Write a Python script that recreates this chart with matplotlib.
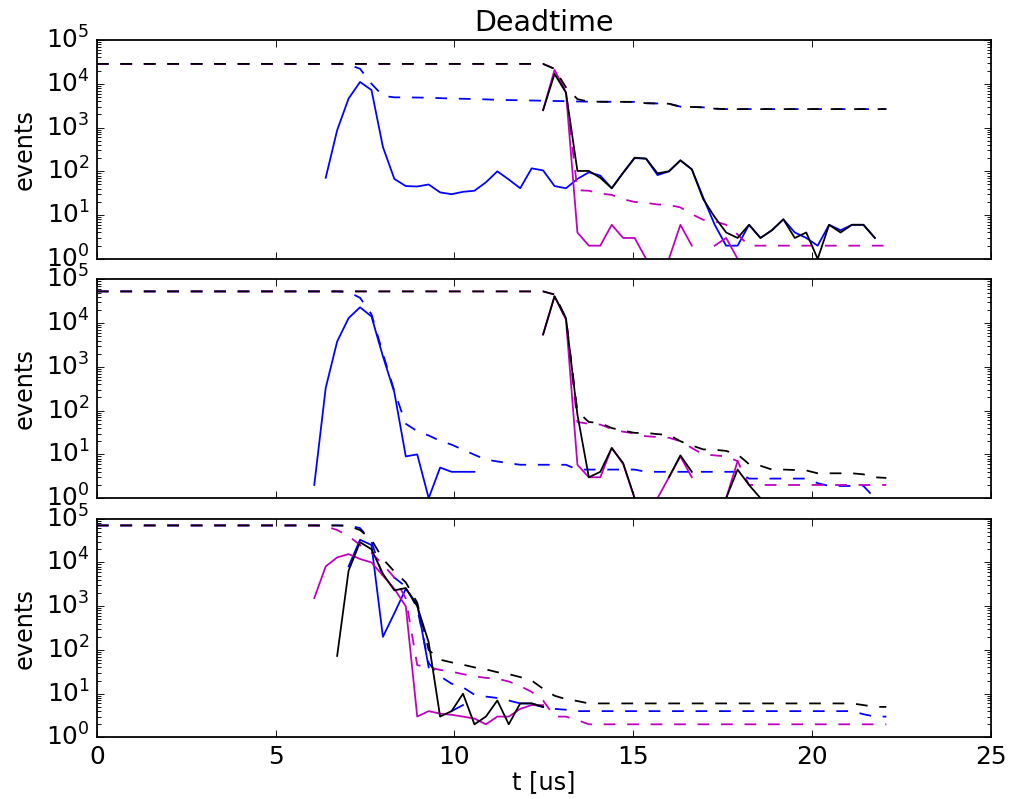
import matplotlib
matplotlib.use("Agg")
import matplotlib.pyplot as plt

# time bins [us]
t = [0.00, 0.32, 0.64, 0.96, 1.28, 1.60, 1.92, 2.24, 2.56, 2.88,
     3.20, 3.52, 3.84, 4.16, 4.48, 4.80, 5.12, 5.44, 5.76, 6.08,
     6.40, 6.72, 7.04, 7.36, 7.68, 8.00, 8.32, 8.64, 8.96, 9.28,
     9.60, 9.92, 10.24, 10.56, 10.88, 11.20, 11.52, 11.84, 12.16, 12.48,
     12.80, 13.12, 13.44, 13.76, 14.08, 14.40, 14.72, 15.04, 15.36, 15.68,
     16.00, 16.32, 16.64, 16.96, 17.28, 17.60, 17.92, 18.24, 18.56, 18.88,
     19.20, 19.52, 19.84, 20.16, 20.48, 20.80, 21.12, 21.44, 21.76, 22.08]

# ---- top panel ----
blue_1 = [0] * 20 + [71, 870, 4600, 11000, 7200, 360, 67, 46, 45, 50,
                     33, 30, 34, 36, 56, 100, 65, 41, 117, 105,
                     46, 41, 67, 95, 80, 41, 93, 200, 195, 82,
                     100, 178, 111, 25, 6, 2, 2, 6, 3, 4.5,
                     8, 4, 3, 2, 6, 4.5, 6, 6, 3] + [0]
blue_cum_1 = [28500] * 22 + [27600, 22000, 10000, 5300, 4900, 4900, 4850, 4800,
                             4700, 4600, 4550, 4480, 4400, 4300, 4250, 4200, 4150, 4100,
                             4050, 4000, 3950, 3900, 3890, 3880, 3870, 3860, 3600, 3550,
                             3500, 3000, 2950, 2900, 2700] + [2640] * 15
mag_1 = [0] * 39 + [2500, 20800, 6300, 4, 2, 2, 6, 3, 3, 1,
                    0, 1, 6, 2, 0, 2, 3, 1] + [0] * 13
mag_cum_1 = [28500] * 40 + [22000, 6500, 37, 36, 31, 29, 23, 20, 19, 17.5,
                            17, 15, 10.5, 7.8, 7.2, 6, 3.6] + [2] * 13
blk_1 = [0] * 39 + [2500, 16800, 6300, 102, 102, 71, 41, 93, 205, 195,
                    90, 100, 178, 111, 23, 9, 4, 3, 6, 3,
                    4.5, 8, 3, 4, 1, 6, 4, 6, 6, 3] + [0]
blk_cum_1 = [28500] * 40 + [21900, 8300, 4470, 3900, 3890, 3880, 3870, 3860,
                            3600, 3550, 3500, 3000, 2950, 2900, 2700] + [2640] * 15

# ---- middle panel ----
blue_2 = [0] * 19 + [2, 330, 3800, 13000, 23000, 14200, 1740, 260, 9, 10,
                     1, 5, 4, 4, 4] + [0] * 36
blue_cum_2 = [53000] * 22 + [51000, 38000, 16000, 2000, 280, 50, 34, 27,
                             20.5, 16.7, 12.8, 9.8, 7.6, 6.9, 6.3] \
    + [5.8] * 5 + [4.5] * 6 + [4] * 9 + [2.8] * 6 + [2.2] + [1.9] * 4 + [1, 0]
mag_2 = [0] * 39 + [5500, 41000, 12000, 5.8, 3, 3, 14, 6, 1, 0,
                    1, 3, 9, 3, 0, 0, 1, 7] + [0] * 13
mag_cum_2 = [53000] * 40 + [45000, 12000, 55, 50, 48, 38, 33, 30, 26, 25,
                            24, 20, 14, 10, 9.5, 9, 7] + [2] * 13
blk_2 = [0] * 39 + [5500, 41000, 13000, 81, 3, 4, 14, 6.3, 1, 0,
                    0, 3, 9.5, 4, 0, 0, 1, 4.5, 2, 1] + [0] * 11
blk_cum_2 = [53000] * 40 + [45000, 13000, 95, 55, 52, 40, 35, 31, 31, 29,
                            28, 20, 16, 13, 12.8, 12, 10, 6, 5.5, 4.5,
                            4.5, 4.4, 4.3, 3.7, 3.7, 3.7, 3.7, 3.5, 3, 2.9]

# ---- bottom panel ----
blue_3 = [0] * 22 + [8100, 33000, 25000, 200, 690, 2500, 1100, 40,
                     0, 4, 5.5, 0, 0, 0, 0, 6, 6, 5] + [0] * 30
blue_cum_3 = [70000] * 23 + [61000, 30000, 4700, 4500, 2800, 900, 50,
                             25, 17, 14, 9.5, 8.6, 8, 7, 6, 5.7, 5,
                             4.5, 4.3] + [4] * 25 + [3.4, 3, 3]
mag_3 = [0] * 19 + [1530, 8100, 13000, 15500, 12000, 10000, 5000, 2500, 990, 3,
                    4, 3.5, 3.3, 3, 2.7, 2, 3, 3, 4.5, 5.5,
                    5.5] + [0] * 30
mag_cum_3 = [70000] * 20 + [67000, 55000, 40000, 25000, 16500, 9000, 4500, 1500, 45, 40,
                            35, 32, 28, 25, 23, 22, 19, 15, 11, 7,
                            3, 3, 2.5] + [2] * 27
blk_3 = [0] * 21 + [73, 6500, 29000, 20000, 5500, 2300, 2600, 1000, 150,
                    3, 4, 10, 2, 3, 7, 2, 6, 6, 5] + [0] * 30
blk_cum_3 = [70000] * 22 + [68000, 55000, 33000, 12000, 6200, 3500, 1200, 100,
                            60, 52, 46, 40, 36, 31, 28, 24, 20, 13,
                            9, 7.5, 6.8] + [6] * 24 + [5.5, 5, 5]

panels = [
    (blue_1, blue_cum_1, mag_1, mag_cum_1, blk_1, blk_cum_1),
    (blue_2, blue_cum_2, mag_2, mag_cum_2, blk_2, blk_cum_2),
    (blue_3, blue_cum_3, mag_3, mag_cum_3, blk_3, blk_cum_3),
]

plt.style.use("classic")
plt.rcParams["figure.facecolor"] = "white"
plt.rcParams["savefig.facecolor"] = "white"
plt.rcParams["mathtext.fontset"] = "dejavusans"
plt.rcParams["xtick.labelsize"] = 14
plt.rcParams["ytick.labelsize"] = 14
plt.rcParams["axes.labelsize"] = 13.5
plt.rcParams["lines.dashed_pattern"] = [6.6, 6.6]

fig, axes = plt.subplots(3, 1, sharex=True, figsize=(1022 / 128, 799 / 128), dpi=128)
fig.subplots_adjust(left=0.0948, right=0.9694, top=0.9499, bottom=0.0770, hspace=0.0937)

for ax, (bs, bc, ms, mc, ks, kc) in zip(axes, panels):
    ax.plot(t, bs, "b-")
    ax.plot(t, bc, "b--")
    ax.plot(t, ms, "m-")
    ax.plot(t, mc, "m--")
    ax.plot(t, ks, "k-")
    ax.plot(t, kc, "k--")
    ax.set_yscale("log", nonpositive="mask")
    ax.set_ylim(1, 1e5)
    ax.set_xlim(0, 25)
    ax.set_ylabel("events")

axes[0].set_title("Deadtime", fontsize=16)
axes[2].set_xlabel("t [us]", labelpad=1)

fig.savefig("out.png", dpi=128)
plt.close(fig)
